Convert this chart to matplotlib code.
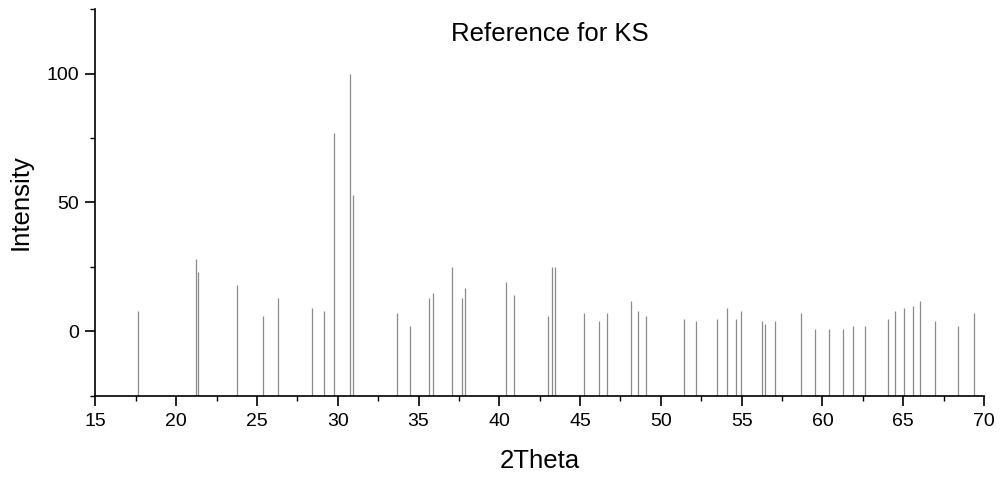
import matplotlib
matplotlib.use("Agg")
import matplotlib.pyplot as plt
from matplotlib.ticker import MultipleLocator

plt.rcParams["font.family"] = ["Liberation Sans", "DejaVu Sans"]

# reference peak positions (2theta) and relative intensities
two_theta = [17.61, 21.24, 21.34, 23.76, 25.37, 26.32, 28.38, 29.12, 29.78, 30.77, 30.96,
             33.64, 34.46, 35.66, 35.90, 37.10, 37.66, 37.88, 40.40, 40.90, 43.00, 43.27,
             43.43, 45.23, 46.18, 46.67, 48.14, 48.61, 49.05,
             51.46, 52.18, 53.50, 54.08, 54.62, 54.99, 56.24, 56.43, 57.05, 58.70, 59.57,
             60.41, 61.30, 61.89, 62.66, 64.08, 64.52, 65.05, 65.59, 66.07, 66.95, 68.40,
             69.38]
intensity = [8, 28, 23, 18, 6, 13, 9, 8, 77, 100, 53,
             7, 2, 13, 15, 25, 13, 17, 19, 14, 6, 25,
             25, 7, 4, 7, 12, 8, 6,
             5, 4, 5, 9, 5, 8, 4, 3, 4, 7, 1,
             1, 1, 2, 2, 5, 8, 9, 10, 12, 4, 2,
             7]

XLIM = (15, 70)
YLIM = (-25, 125)

fig = plt.figure(figsize=(10.02, 4.79), dpi=100)
ax = fig.add_axes([0.0953, 0.1733, 0.8867, 0.8079])

ax.vlines(two_theta, YLIM[0], intensity, color="#8a8a8a", linewidth=0.9)

ax.set_xlim(*XLIM)
ax.set_ylim(*YLIM)
ax.xaxis.set_major_locator(MultipleLocator(5))
ax.xaxis.set_minor_locator(MultipleLocator(2.5))
ax.set_yticks([0, 50, 100])
ax.yaxis.set_minor_locator(MultipleLocator(25))

for side in ("top", "right"):
    ax.spines[side].set_visible(False)
for side in ("left", "bottom"):
    ax.spines[side].set_linewidth(1.2)

ax.tick_params(which="major", direction="out", length=7, width=1.2,
               labelsize=14, pad=5, colors="black")
ax.tick_params(which="minor", direction="out", length=3.5, width=1.0)

ax.set_xlabel("2Theta", fontsize=18.5, labelpad=14)
ax.set_ylabel("Intensity", fontsize=18.5, labelpad=10)

fig.text(550 / 1002, 1 - 34 / 479, "Reference for KS", fontsize=18.5,
         ha="center", va="center")

fig.savefig("out.png", dpi=100)
